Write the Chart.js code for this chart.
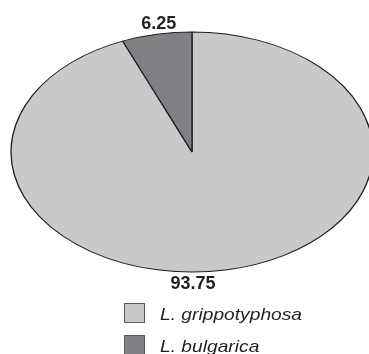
<!DOCTYPE html>
<html>
<head>
<meta charset="utf-8">
<script src="https://cdn.jsdelivr.net/npm/chart.js@4.4.1/dist/chart.umd.min.js"></script>
<style>
  html, body { margin: 0; padding: 0; background: #ffffff; overflow: hidden; }
  #wrap { width: 369px; height: 354px; position: relative; }
</style>
</head>
<body>
<div id="wrap"><canvas id="c" width="369" height="354"></canvas></div>
<script>
// Serovar shares (%)
const categories = ['L. grippotyphosa', 'L. bulgarica'];
const shares = [93.75, 6.25];
const sliceColors = ['#c8c9cb', '#808184'];

// Ellipse geometry the round pie is squeezed into
const ELLIPSE = { cx: 192, cy: 152, rx: 181, ry: 120 };

function arcInfo(chart) {
  const arc = chart.getDatasetMeta(0).data[0];
  return { x: arc.x, y: arc.y, r: arc.outerRadius };
}

const ellipsePlugin = {
  id: 'ellipse',
  beforeDatasetsDraw(chart) {
    const a = arcInfo(chart);
    const ctx = chart.ctx;
    ctx.save();
    ctx.translate(ELLIPSE.cx, ELLIPSE.cy);
    ctx.scale(ELLIPSE.rx / a.r, ELLIPSE.ry / a.r);
    ctx.translate(-a.x, -a.y);
  },
  afterDatasetsDraw(chart) {
    chart.ctx.restore();
  },
  afterDraw(chart) {
    const ctx = chart.ctx;
    const meta = chart.getDatasetMeta(0);
    const vals = chart.data.datasets[0].data;

    // value labels
    ctx.save();
    ctx.fillStyle = '#231f20';
    ctx.font = 'bold 18px "Liberation Sans", Arial, sans-serif';
    ctx.textAlign = 'center';
    ctx.textBaseline = 'alphabetic';
    // large slice: below the ellipse
    ctx.fillText(vals[0].toFixed(2), ELLIPSE.cx + 1, ELLIPSE.cy + ELLIPSE.ry + 17);
    // small slice: above its mid angle
    const el = meta.data[1];
    const mid = (el.startAngle + el.endAngle) / 2;
    const ex = ELLIPSE.cx + ELLIPSE.rx * Math.cos(mid);
    const ey = ELLIPSE.cy + ELLIPSE.ry * Math.sin(mid);
    ctx.fillText(vals[1].toFixed(2), ex + 2, ey - 5);
    ctx.restore();

    // legend
    const colors = chart.data.datasets[0].backgroundColor;
    chart.data.labels.forEach((lab, i) => {
      const top = 303 + i * 32;
      ctx.save();
      ctx.fillStyle = colors[i];
      ctx.fillRect(124.5, top + 0.5, 20, 19);
      ctx.strokeStyle = '#5a5a5c';
      ctx.lineWidth = 1;
      ctx.strokeRect(124.5, top + 0.5, 20, 19);
      ctx.fillStyle = '#231f20';
      ctx.font = 'italic 17px "Liberation Sans", Arial, sans-serif';
      ctx.textAlign = 'left';
      ctx.textBaseline = 'alphabetic';
      ctx.translate(160, top + 17);
      ctx.scale(1.13, 1);
      ctx.fillText(lab, 0, 0);
      ctx.restore();
    });
  }
};

new Chart(document.getElementById('c'), {
  type: 'pie',
  data: {
    labels: categories,
    datasets: [{
      data: shares,
      backgroundColor: sliceColors,
      borderColor: '#231f20',
      borderWidth: 1.3
    }]
  },
  options: {
    responsive: false,
    animation: false,
    events: [],
    layout: { padding: 0 },
    plugins: {
      legend: { display: false },
      tooltip: { enabled: false },
      title: { display: false }
    }
  },
  plugins: [ellipsePlugin]
});
</script>
</body>
</html>
